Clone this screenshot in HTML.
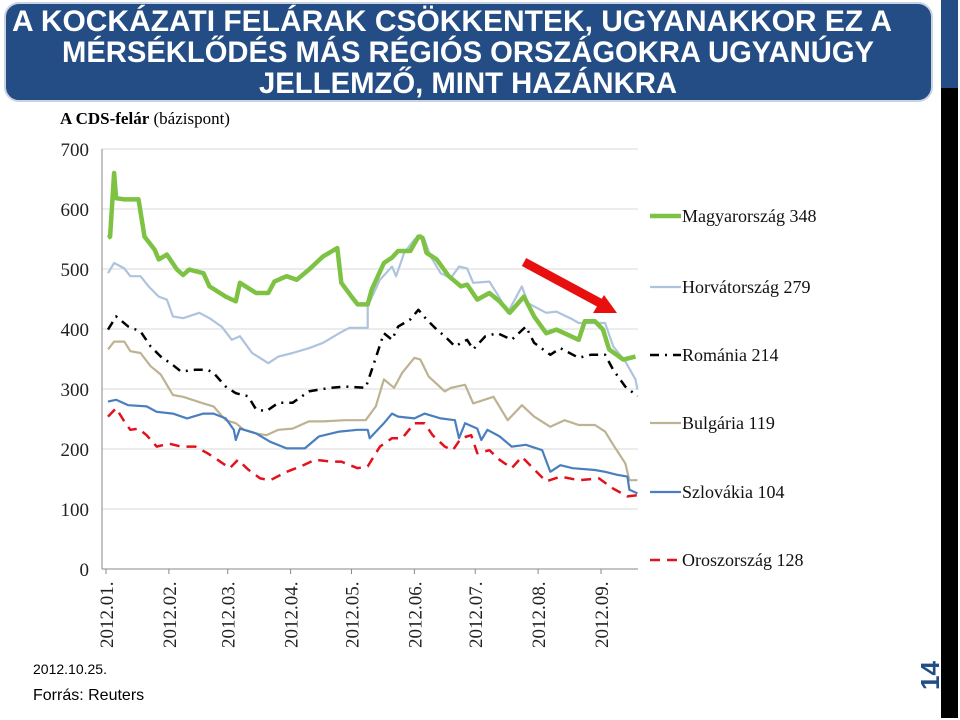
<!DOCTYPE html>
<html><head><meta charset="utf-8"><style>
html,body{margin:0;padding:0;background:#fff;width:960px;height:720px;overflow:hidden}
svg{display:block}
</style></head><body>
<svg id="root" width="960" height="720" viewBox="0 0 960 720" xmlns="http://www.w3.org/2000/svg">
  <rect x="5" y="3" width="927" height="98" rx="14" fill="#234d84" stroke="#c9d3e3" stroke-width="2"/>
  <g font-family="'Liberation Sans Narrow','Liberation Sans',sans-serif" font-weight="bold" font-size="30" fill="#fff" text-anchor="middle">
    <text x="452" y="31" textLength="880" lengthAdjust="spacingAndGlyphs">A KOCKÁZATI FELÁRAK CSÖKKENTEK, UGYANAKKOR EZ A</text>
    <text x="468" y="62" textLength="812" lengthAdjust="spacingAndGlyphs">MÉRSÉKLŐDÉS MÁS RÉGIÓS ORSZÁGOKRA UGYANÚGY</text>
    <text x="468" y="93" textLength="418" lengthAdjust="spacingAndGlyphs">JELLEMZŐ, MINT HAZÁNKRA</text>
  </g>
  <rect x="941" y="0" width="17" height="88" fill="#234d84"/>
  <rect x="941" y="88" width="17" height="630" fill="#000"/>
  <text transform="translate(939,690) rotate(-90)" font-family="'Liberation Sans',sans-serif" font-weight="bold" font-size="26" fill="#234d84">14</text>
  <text x="60" y="124" font-family="'Liberation Serif',serif" font-size="17" fill="#000"><tspan font-weight="bold">A CDS-felár</tspan> (bázispont)</text>
  <text x="33" y="674" font-family="'Liberation Sans',sans-serif" font-size="14" fill="#000">2012.10.25.</text>
  <text x="33" y="700" font-family="'Liberation Sans',sans-serif" font-size="16" fill="#000">Forrás: Reuters</text>
  <g id="chart"></g>
  <g id="legend"></g>
  <g>
    <line x1="524" y1="262" x2="600" y2="303" stroke="#e8100f" stroke-width="9"/>
    <polygon points="617,313 593,313 604,295" fill="#e8100f"/>
  </g>
</svg>
<script>
const NS='http://www.w3.org/2000/svg';
const yTicks=[0,100,200,300,400,500,600,700];
const monthLabels=['2012.01.','2012.02.','2012.03.','2012.04.','2012.05.','2012.06.','2012.07.','2012.08.','2012.09.'];
const monthDays=[0,31,60,91,121,152,182,213,244];

const huDays=[1,2,4,5,9,16,19,24,26,30,35,38,41,48,51,59,64,66,74,80,83,89,94,100,107,114,116,121,124,129,131,137,141,144,150,154,156,158,163,169,175,178,183,189,194,199,206,211,217,222,233,236,241,245,248,255,261];
const huVals=[552,554,660,618,616,616,554,532,516,524,499,490,499,493,471,454,446,477,460,460,479,488,482,499,521,535,477,454,441,441,466,510,519,530,530,554,552,527,516,488,471,474,449,460,446,427,454,421,393,399,382,413,413,399,366,349,354];

const hrDays=[1,4,9,12,17,21,26,30,33,38,46,51,57,62,66,72,80,85,92,100,107,115,120,129,129,135,141,143,147,152,155,157,160,165,170,174,178,181,189,194,198,205,208,217,222,230,233,246,250,256,261,262];
const hrVals=[493,510,501,488,488,471,454,449,421,418,427,418,404,382,388,360,343,354,360,368,377,393,402,402,438,482,504,488,527,549,557,549,521,493,485,504,501,477,479,452,427,471,443,427,429,416,410,410,371,346,316,299];

const roDays=[1,5,11,17,22,27,33,37,44,50,53,59,64,70,74,79,85,92,100,105,111,118,128,131,137,141,144,150,154,158,163,167,172,178,181,187,193,200,207,211,219,224,233,239,246,250,256,262];
const roVals=[399,421,404,396,371,354,340,329,332,332,327,304,293,288,266,263,277,277,296,299,302,304,302,332,393,382,404,416,432,416,399,388,371,382,366,388,393,382,404,377,357,368,352,357,357,332,304,288];

const bgDays=[1,4,9,12,17,22,27,33,38,48,53,59,64,68,74,79,85,92,100,107,118,128,133,137,142,146,152,155,159,167,170,177,181,191,198,205,211,219,226,233,241,246,250,256,258,262];
const bgVals=[366,379,379,363,360,338,324,290,287,276,271,248,243,232,226,223,232,234,246,246,248,248,271,316,302,327,352,349,321,296,302,307,276,287,248,273,254,237,248,240,240,229,207,176,148,148];

const skDays=[1,5,11,20,25,33,40,48,53,59,63,64,66,74,81,89,98,105,115,124,129,130,137,141,144,152,157,165,172,174,177,183,185,188,194,200,207,215,219,224,230,241,246,252,257,258,262];
const skVals=[279,282,273,271,262,259,251,259,259,251,232,215,234,226,212,201,201,221,229,232,232,218,243,259,254,251,259,251,248,218,243,234,215,232,221,204,207,198,162,173,168,165,162,157,154,132,126];

const ruDays=[1,5,9,12,16,20,25,31,37,44,50,55,61,65,70,76,81,89,96,103,111,116,124,129,135,141,146,152,157,161,167,171,175,180,183,189,194,200,205,211,217,224,233,243,250,257,262];
const ruVals=[254,268,246,232,234,223,204,209,204,204,193,182,168,182,166,151,148,162,171,182,179,179,168,171,204,218,218,243,243,223,204,198,218,223,193,198,182,168,187,166,146,154,148,151,134,121,123];

const seriesNames=['Magyarország 348','Horvátország 279','Románia 214','Bulgária 119','Szlovákia 104','Oroszország 128'];

const X0=106, PXD=495/244, Y0=569, PXV=0.6, XEND=638;
function xs(d){return X0+d*PXD;}
function ys(v){return Y0-v*PXV;}
const chart=document.getElementById('chart');
function mk(tag,attrs,parent){const e=document.createElementNS(NS,tag);for(const k in attrs)e.setAttribute(k,attrs[k]);(parent||chart).appendChild(e);return e;}

yTicks.forEach(t=>{
  if(t>0){const g=mk('line',{x1:102,x2:XEND,y1:ys(t),y2:ys(t),stroke:'#d9d9d9','stroke-width':1});
  
  }
  const l=mk('text',{x:89,y:ys(t)+7,'text-anchor':'end','font-family':"'Liberation Serif',serif",'font-size':19,fill:'#222'});
  l.textContent=t;
  
  
});
const ax=mk('line',{x1:102,x2:102,y1:ys(700),y2:Y0,stroke:'#888','stroke-width':1});


const xa=mk('line',{x1:102,x2:XEND,y1:Y0,y2:Y0,stroke:'#888','stroke-width':1});


monthDays.forEach((d,i)=>{
  const x=xs(d);
  const tk=mk('line',{x1:x,x2:x,y1:Y0,y2:Y0+5,stroke:'#888'});
  
  
  const t=mk('text',{transform:`translate(${x+7},648) rotate(-90)`,'font-family':"'Liberation Serif',serif",'font-size':19,fill:'#222'});
  t.textContent=monthLabels[i];
  
  
});

const styles=[
  {c:'#7dc242',w:4.5,dash:'',name:'line-magyarorszag'},
  {c:'#aec3de',w:2.2,dash:'',name:'line-horvatorszag'},
  {c:'#000',w:2.5,dash:'9 6 2 6',name:'line-romania'},
  {c:'#bdb392',w:2.2,dash:'',name:'line-bulgaria'},
  {c:'#4a7ebf',w:2.2,dash:'',name:'line-szlovakia'},
  {c:'#e3111b',w:2.5,dash:'10 7',name:'line-oroszorszag'}
];
const data=[[huDays,huVals],[hrDays,hrVals],[roDays,roVals],[bgDays,bgVals],[skDays,skVals],[ruDays,ruVals]];
const order=[3,4,5,2,1,0];
order.forEach(i=>{
  const [d,v]=data[i],s=styles[i];
  const pts=d.map((dd,k)=>xs(dd).toFixed(1)+','+ys(v[k]).toFixed(1)).join(' ');
  const p=mk('polyline',{points:pts,fill:'none',stroke:s.c,'stroke-width':s.w,'stroke-linejoin':'round','stroke-dasharray':s.dash});
  
  
});

const leg=document.getElementById('legend');
const legY=[216,287,355,423,492,560];
seriesNames.forEach((n,i)=>{
  const s=styles[i];
  const g=document.createElementNS(NS,'g');
  
  
  leg.appendChild(g);
  mk('line',{x1:650,x2:681,y1:legY[i],y2:legY[i],stroke:s.c,'stroke-width':s.w,'stroke-dasharray':s.dash},g);
  const t=mk('text',{x:682,y:legY[i]+6,'font-family':"'Liberation Serif',serif",'font-size':18,fill:'#111'},g);
  t.textContent=n;
});
</script>
</body></html>
